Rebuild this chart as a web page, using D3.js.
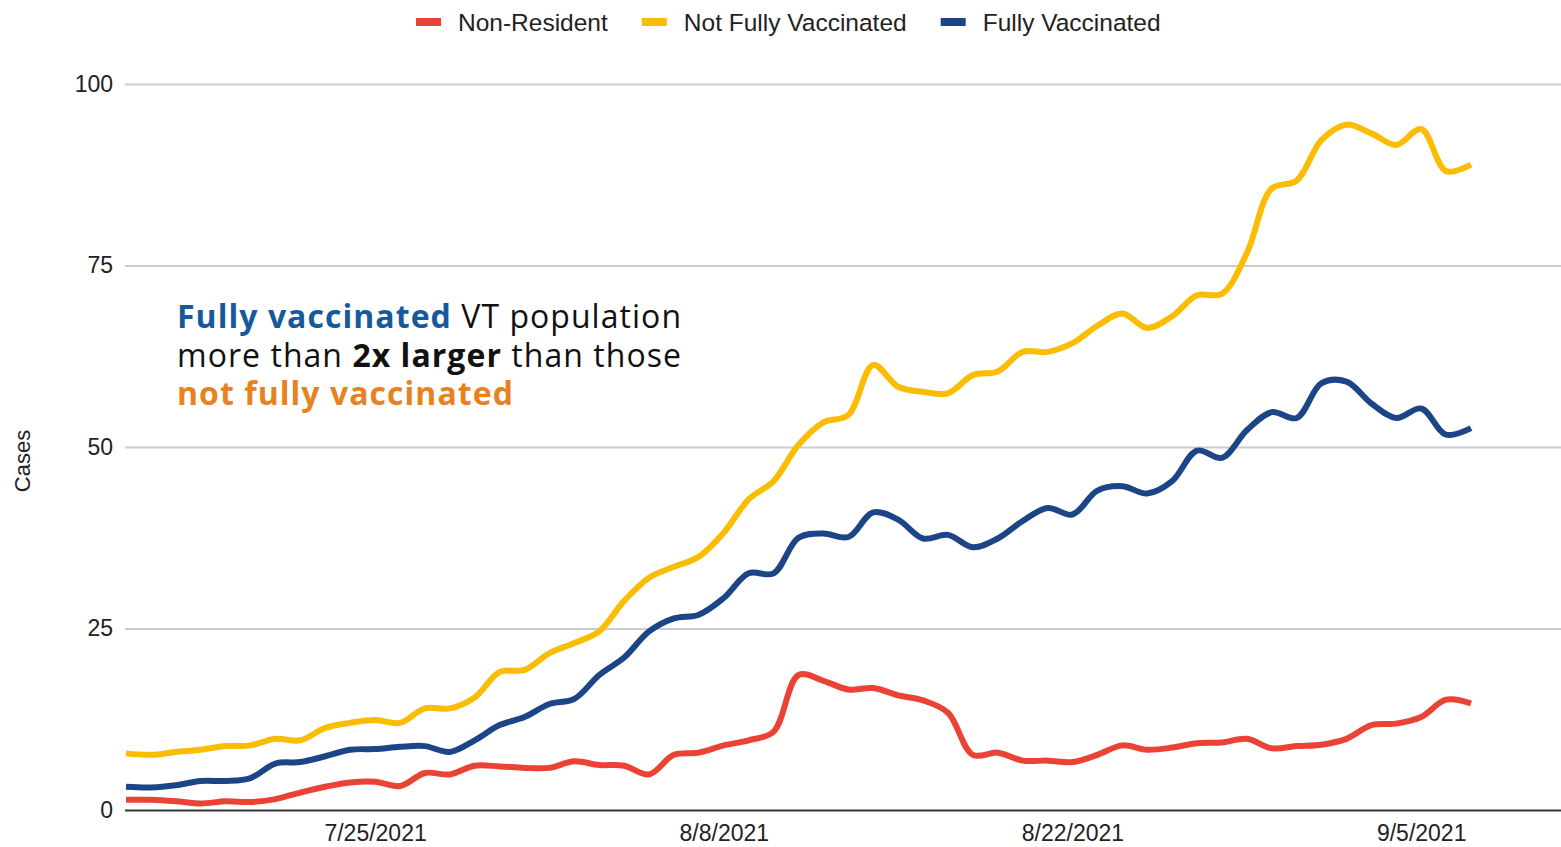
<!DOCTYPE html>
<meta charset="utf-8">
<style>

body {
  margin: 0;
  background: #fff;
}

.grid line {
  stroke: #ccc;
  stroke-width: 2px;
}

.grid .domain {
  display: none;
}

.axis text, .legend text, .ylabel {
  font-family: "Liberation Sans", Arial, sans-serif;
  fill: #222;
}

.series {
  fill: none;
  stroke-width: 6px;
  stroke-linejoin: round;
  stroke-linecap: butt;
}

.note {
  font-family: "Open Sans", sans-serif;
  fill: #111;
}

</style>
<body>
<script src="https://cdn.jsdelivr.net/npm/d3@7"></script>
<script>

// daily values, starting 7/15/2021
var startDate = new Date(2021, 6, 15);

var nonResident = [1.4, 1.4, 1.2, 0.9, 1.2, 1.1, 1.5, 2.4, 3.2, 3.8,
                   3.9, 3.3, 5.1, 4.9, 6.1, 6.0, 5.8, 5.8, 6.7, 6.2,
                   6.1, 4.9, 7.6, 7.9, 8.9, 9.6, 10.8, 18.6, 17.8, 16.6,
                   16.8, 15.8, 15.1, 13.4, 7.6, 7.9, 6.8, 6.8, 6.6, 7.6,
                   8.9, 8.3, 8.6, 9.2, 9.3, 9.8, 8.5, 8.8, 9.0, 9.8,
                   11.7, 11.9, 12.8, 15.2, 14.7];

var notFullyVaccinated = [7.8, 7.6, 8.0, 8.3, 8.8, 8.9, 9.8, 9.6, 11.3, 12.0,
                          12.4, 12.0, 14.0, 14.0, 15.5, 19.0, 19.3, 21.6, 23.0, 24.6,
                          28.8, 32.0, 33.5, 34.9, 38.2, 42.8, 45.3, 50.3, 53.4, 54.4,
                          61.3, 58.3, 57.6, 57.4, 59.9, 60.4, 63.1, 63.1, 64.3, 66.7,
                          68.4, 66.4, 68.0, 70.9, 71.1, 76.7, 85.6, 86.7, 92.3, 94.4,
                          93.2, 91.6, 93.8, 88.0, 88.9];

var fullyVaccinated = [3.2, 3.1, 3.4, 4.0, 4.0, 4.4, 6.4, 6.6, 7.4, 8.3,
                       8.4, 8.7, 8.8, 8.0, 9.6, 11.7, 12.8, 14.6, 15.3, 18.6,
                       21.0, 24.6, 26.4, 26.9, 29.2, 32.6, 32.6, 37.5, 38.1, 37.6,
                       41.0, 40.0, 37.4, 37.9, 36.2, 37.4, 39.8, 41.6, 40.7, 44.0,
                       44.6, 43.6, 45.3, 49.5, 48.5, 52.3, 54.8, 54.0, 58.8, 59.0,
                       56.0, 54.0, 55.3, 51.7, 52.6];

var seriesNames = ["Non-Resident", "Not Fully Vaccinated", "Fully Vaccinated"];
var seriesColors = ["#ea4335", "#fbbc04", "#1c4587"];
var yTicks = [0, 25, 50, 75, 100];
var xTickLabels = ["7/25/2021", "8/8/2021", "8/22/2021", "9/5/2021"];

var width = 1561, height = 847;
var plotLeft = 125, plotRight = 1561, plotTop = 84, plotBottom = 810;

var svg = d3.select("body").append("svg")
    .attr("width", width)
    .attr("height", height);

var dates = nonResident.map(function(d, i) { return d3.timeDay.offset(startDate, i); });

var x = d3.scaleTime()
    .domain([dates[0], dates[dates.length - 1]])
    .range([126, 1471]);

var y = d3.scaleLinear()
    .domain([0, 100])
    .range([plotBottom, plotTop]);

// gridlines + y labels
var yAxis = svg.append("g")
    .attr("class", "grid axis")
    .attr("transform", "translate(" + plotLeft + ",0)")
    .call(d3.axisLeft(y)
      .tickValues(yTicks)
      .tickSize(-(plotRight - plotLeft))
      .tickPadding(12));

yAxis.selectAll("text")
    .style("font-size", "23px");

yAxis.selectAll(".tick")
    .filter(function(d) { return d === 0; })
    .select("line")
    .style("stroke", "#333");

// x labels
var parseTick = d3.timeParse("%m/%d/%Y");
var xAxis = svg.append("g")
    .attr("class", "axis")
    .attr("transform", "translate(0," + plotBottom + ")")
    .call(d3.axisBottom(x)
      .tickValues(xTickLabels.map(parseTick))
      .tickSize(0)
      .tickPadding(15)
      .tickFormat(function(d, i) { return xTickLabels[i]; }));

xAxis.select(".domain").remove();
xAxis.selectAll("text").style("font-size", "23px");

svg.append("text")
    .attr("class", "ylabel")
    .attr("transform", "translate(22,461) rotate(-90)")
    .attr("text-anchor", "middle")
    .attr("dominant-baseline", "central")
    .style("font-size", "22px")
    .text("Cases");

// lines
var line = d3.line()
    .x(function(d, i) { return x(dates[i]); })
    .y(function(d) { return y(d); })
    .curve(d3.curveCatmullRom.alpha(0.5));

svg.selectAll(".series")
    .data([nonResident, notFullyVaccinated, fullyVaccinated])
  .enter().append("path")
    .attr("class", "series")
    .attr("stroke", function(d, i) { return seriesColors[i]; })
    .attr("d", line);

// legend
var legend = svg.append("g").attr("class", "legend");
var lx = 416;
seriesNames.forEach(function(name, i) {
  legend.append("rect")
      .attr("x", lx)
      .attr("y", 18)
      .attr("width", 25)
      .attr("height", 8)
      .attr("fill", seriesColors[i]);
  var t = legend.append("text")
      .attr("x", lx + 42)
      .attr("y", 22)
      .attr("dominant-baseline", "central")
      .style("font-size", "24.5px")
      .text(name);
  lx += 42 + t.node().getComputedTextLength() + 34;
});

// annotation
var note = svg.append("text")
    .attr("class", "note")
    .style("font-size", "32px");

var line1 = note.append("tspan").attr("x", 177).attr("y", 328);
line1.append("tspan").style("font-weight", 700).style("fill", "#175a9c").text("Fully vaccinated");
line1.append("tspan").text(" VT population");

var line2 = note.append("tspan").attr("x", 177).attr("y", 367);
line2.append("tspan").text("more than ");
line2.append("tspan").style("font-weight", 700).text("2x larger");
line2.append("tspan").text(" than those");

var line3 = note.append("tspan").attr("x", 177).attr("y", 405);
line3.append("tspan").style("font-weight", 700).style("fill", "#e8821e").text("not fully vaccinated");

// stretch the note a little to match the wide original face
var w2 = 0;
line2.selectAll("tspan").each(function() { w2 += this.getComputedTextLength(); });
var chars = "more than 2x larger than those".length;
note.style("letter-spacing", ((505 - w2) / chars) + "px");

</script>
